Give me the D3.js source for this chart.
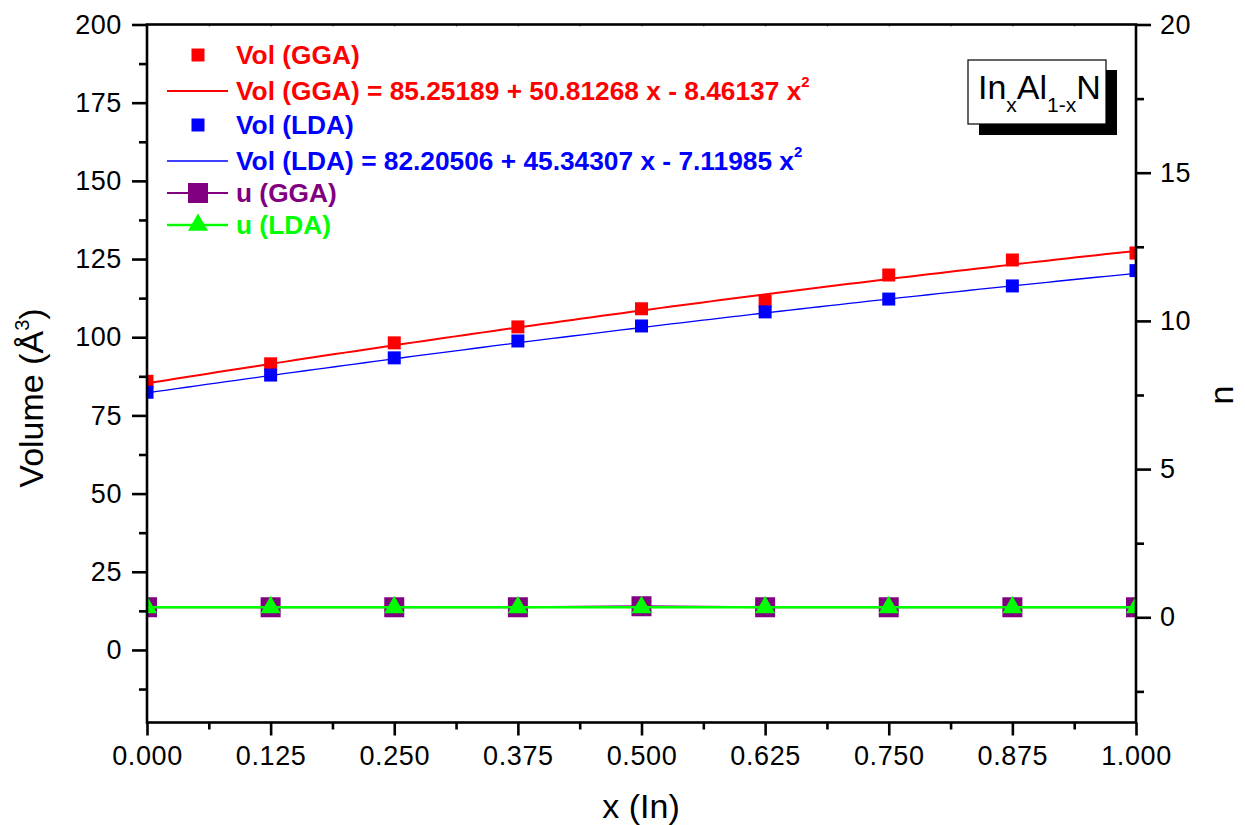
<!DOCTYPE html>
<html>
<head>
<meta charset="utf-8">
<script src="https://cdn.jsdelivr.net/npm/d3@7/dist/d3.min.js"></script>
<style>
  html, body { margin: 0; padding: 0; background: #fff; }
  svg { display: block; font-family: "Liberation Sans", Arial, sans-serif; }
</style>
</head>
<body>
<svg id="chart" width="1245" height="825"></svg>
<script>
// Composition x (In) for In_xAl_(1-x)N
const xVals = [0, 0.125, 0.25, 0.375, 0.5, 0.625, 0.75, 0.875, 1.0];
// Cell volume (Å^3)
const volGGA = [85.9, 91.5, 98.2, 103.3, 109.1, 111.6, 119.9, 124.7, 126.9];
const volLDA = [82.4, 87.9, 93.4, 98.8, 103.6, 108.1, 112.2, 116.4, 121.3];
// Internal parameter u (right axis)
const uGGA = [0.34, 0.34, 0.335, 0.34, 0.375, 0.34, 0.34, 0.335, 0.34];
const uLDA = [0.335, 0.335, 0.335, 0.335, 0.335, 0.335, 0.335, 0.335, 0.335];
// Quadratic fit coefficients: a + b x + c x^2
const fitGGA = [85.25189, 50.81268, -8.46137];
const fitLDA = [82.20506, 45.34307, -7.11985];
// Tick values
const xTicks = [0, 0.125, 0.25, 0.375, 0.5, 0.625, 0.75, 0.875, 1.0];
const yLeftTicks = [0, 25, 50, 75, 100, 125, 150, 175, 200];
const yRightTicks = [0, 5, 10, 15, 20];

const svg = d3.select("#chart");
const L = 147, R = 1136, T = 24.5, B = 722.5;

const x = d3.scaleLinear().domain([0, 1]).range([L, R]);
const yL = d3.scaleLinear().domain([-23.2, 200]).range([B, T]);
const yR = d3.scaleLinear().domain([-3.55, 20]).range([B, T]);

svg.append("defs").append("clipPath").attr("id", "plotclip")
  .append("rect").attr("x", L).attr("y", T).attr("width", R - L).attr("height", B - T);

const plot = svg.append("g").attr("clip-path", "url(#plotclip)");

// Fitted quadratic curves
function fitCurve(c) {
  const xs = d3.range(0, 1.0001, 0.01);
  return xs.map(v => [v, c[0] + c[1] * v + c[2] * v * v]);
}
const lineL = d3.line().x(d => x(d[0])).y(d => yL(d[1]));
const lineR = d3.line().x(d => x(d[0])).y(d => yR(d[1]));

plot.append("path").datum(fitCurve(fitGGA)).attr("d", lineL)
  .attr("fill", "none").attr("stroke", "#ff0000").attr("stroke-width", 2);
plot.append("path").datum(fitCurve(fitLDA)).attr("d", lineL)
  .attr("fill", "none").attr("stroke", "#0000ff").attr("stroke-width", 1.3);

const sq13 = d3.symbol().type(d3.symbolSquare).size(169);
const sq20 = d3.symbol().type(d3.symbolSquare).size(400);
const tri = d3.symbol().type(d3.symbolTriangle).size(175);

plot.selectAll(".vg").data(xVals).join("path")
  .attr("d", sq13).attr("fill", "#ff0000")
  .attr("transform", (d, i) => `translate(${x(d)},${yL(volGGA[i])})`);
plot.selectAll(".vl").data(xVals).join("path")
  .attr("d", sq13).attr("fill", "#0000ff")
  .attr("transform", (d, i) => `translate(${x(d)},${yL(volLDA[i])})`);

// u (GGA)
plot.append("path").datum(xVals.map((d, i) => [d, uGGA[i]])).attr("d", lineR)
  .attr("fill", "none").attr("stroke", "#800080").attr("stroke-width", 2);
plot.append("g").selectAll("path").data(xVals).join("path")
  .attr("d", sq20).attr("fill", "#800080")
  .attr("transform", (d, i) => `translate(${x(d)},${yR(uGGA[i])})`);
// u (LDA)
plot.append("path").datum(xVals.map((d, i) => [d, uLDA[i]])).attr("d", lineR)
  .attr("fill", "none").attr("stroke", "#00ff00").attr("stroke-width", 2.5);
plot.append("g").selectAll("path").data(xVals).join("path")
  .attr("d", tri).attr("fill", "#00ff00")
  .attr("transform", (d, i) => `translate(${x(d)},${yR(uLDA[i])})`);

// Axes
function styleAxis(g, fs) {
  g.select(".domain").remove();
  g.selectAll(".tick line").attr("stroke", "#000").attr("stroke-width", 2.6);
  g.selectAll(".tick text").attr("fill", "#000").style("font-size", fs + "px")
    .style("letter-spacing", "0.6px")
    .style("font-family", "'Liberation Sans', Arial, sans-serif");
}
const minorX = d3.range(0.0625, 1, 0.125);
const minorL = d3.range(-12.5, 200, 25);
const minorR = d3.range(-2.5, 20, 5);
const TF = 27;

// bottom
svg.append("g").attr("transform", `translate(0,${B})`)
  .call(d3.axisBottom(x).tickValues(minorX).tickSize(7).tickFormat(""))
  .call(g => styleAxis(g, TF));
svg.append("g").attr("transform", `translate(0,${B})`)
  .call(d3.axisBottom(x).tickValues(xTicks).tickSize(13).tickPadding(10).tickFormat(d3.format(".3f")))
  .call(g => styleAxis(g, TF));
// left
svg.append("g").attr("transform", `translate(${L},0)`)
  .call(d3.axisLeft(yL).tickValues(minorL).tickSize(8).tickFormat(""))
  .call(g => styleAxis(g, TF));
svg.append("g").attr("transform", `translate(${L},0)`)
  .call(d3.axisLeft(yL).tickValues(yLeftTicks).tickSize(15).tickPadding(10).tickFormat(d3.format("d")))
  .call(g => styleAxis(g, TF));
// right
svg.append("g").attr("transform", `translate(${R},0)`)
  .call(d3.axisRight(yR).tickValues(minorR).tickSize(8).tickFormat(""))
  .call(g => styleAxis(g, TF));
svg.append("g").attr("transform", `translate(${R},0)`)
  .call(d3.axisRight(yR).tickValues(yRightTicks).tickSize(15).tickPadding(9).tickFormat(d3.format("d")))
  .call(g => styleAxis(g, TF));
// top: tiny inward ticks
svg.append("g").attr("transform", `translate(0,${T})`)
  .call(d3.axisTop(x).tickValues(d3.range(0, 1.0001, 0.0625)).tickSize(-2).tickFormat(""))
  .call(g => { g.select(".domain").remove(); g.selectAll(".tick line").attr("stroke", "#555").attr("stroke-width", 1); });

// frame
svg.append("rect").attr("x", L).attr("y", T).attr("width", R - L).attr("height", B - T)
  .attr("fill", "none").attr("stroke", "#000").attr("stroke-width", 2.6);

// Axis titles
const yTitle = svg.append("text").attr("transform", "translate(43,398) rotate(-90)")
  .attr("text-anchor", "middle").style("font-size", "34px").attr("fill", "#000");
yTitle.append("tspan").text("Volume (Å");
yTitle.append("tspan").text("3").style("font-size", "20px").attr("dy", -14);
yTitle.append("tspan").text(")").attr("dy", 14);

svg.append("text").attr("transform", "translate(1233,395) rotate(-90)")
  .attr("text-anchor", "middle").style("font-size", "34px").attr("fill", "#000").text("n");

svg.append("text").attr("x", 641).attr("y", 818).attr("text-anchor", "middle")
  .style("font-size", "34px").attr("fill", "#000").text("x (In)");

// Legend
const legendRows = [
  { y: 55, color: "#ff0000", sym: "sq13", line: false, text: "Vol (GGA)", sup: false },
  { y: 91, color: "#ff0000", sym: null, line: 2, text: "Vol (GGA) = 85.25189 + 50.81268 x - 8.46137 x", sup: true },
  { y: 125, color: "#0000ff", sym: "sq13", line: false, text: "Vol (LDA)", sup: false },
  { y: 161, color: "#0000ff", sym: null, line: 1.3, text: "Vol (LDA) = 82.20506 + 45.34307 x - 7.11985 x", sup: true },
  { y: 193, color: "#800080", sym: "sq20", line: 2, text: "u (GGA)", sup: false },
  { y: 225, color: "#00ff00", sym: "tri", line: 2.5, text: "u (LDA)", sup: false }
];
const symMap = { sq13, sq20, tri };
const lg = svg.append("g");
legendRows.forEach(r => {
  if (r.line) {
    lg.append("line").attr("x1", 167).attr("x2", 228).attr("y1", r.y).attr("y2", r.y)
      .attr("stroke", r.color).attr("stroke-width", r.line);
  }
  if (r.sym) {
    lg.append("path").attr("d", symMap[r.sym]).attr("fill", r.color)
      .attr("transform", `translate(198,${r.y})`);
  }
  const t = lg.append("text").attr("x", 236).attr("y", r.y + 9)
    .style("font-size", "26.3px").style("font-weight", "bold").attr("fill", r.color);
  t.append("tspan").text(r.text);
  if (r.sup) t.append("tspan").text("2").style("font-size", "15px").attr("dy", -13);
});

// Inset label with drop shadow
svg.append("rect").attr("x", 979).attr("y", 70).attr("width", 138).attr("height", 65).attr("fill", "#000");
svg.append("rect").attr("x", 968).attr("y", 60).attr("width", 138).attr("height", 64)
  .attr("fill", "#fff").attr("stroke", "#000").attr("stroke-width", 1.2);
const inset = svg.append("text").attr("x", 978).attr("y", 99).style("font-size", "34px").attr("fill", "#000");
inset.append("tspan").text("In");
inset.append("tspan").text("x").style("font-size", "21px").attr("dy", 13);
inset.append("tspan").text("Al").attr("dy", -13);
inset.append("tspan").text("1-x").style("font-size", "21px").attr("dy", 13);
inset.append("tspan").text("N").attr("dy", -13);
</script>
</body>
</html>
